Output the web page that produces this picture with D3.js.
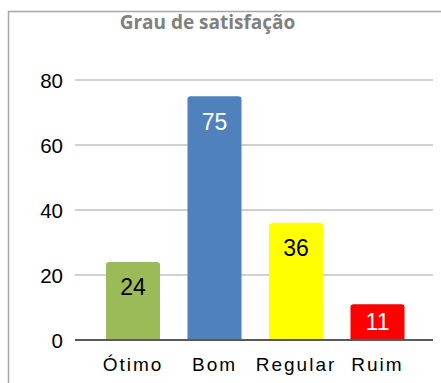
<!DOCTYPE html>
<html>
<head>
<meta charset="utf-8">
<script src="https://cdn.jsdelivr.net/npm/d3@7"></script>
<style>
  html, body { margin: 0; padding: 0; background: #fff; }
  svg { display: block; }
</style>
</head>
<body>
<svg id="chart" width="441" height="383"></svg>
<script>
// Survey results: satisfaction level
const categories = ["Ótimo", "Bom", "Regular", "Ruim"];
const values = [24, 75, 36, 11];
const colors = ["#9bbb59", "#4f81bd", "#ffff00", "#ff0000"];
const labelColors = ["#000000", "#ffffff", "#000000", "#ffffff"];
const yTicks = [0, 20, 40, 60, 80];
const title = "Grau de satisfação";

const svg = d3.select("#chart");
const W = 441, H = 383;
const font = "'Liberation Sans', Arial, sans-serif";

// Outer frame (top and left edges visible)
svg.append("path")
  .attr("d", `M8.5,${H} V11.5 H${W}`)
  .attr("fill", "none")
  .attr("stroke", "#a6a6a6")
  .attr("stroke-width", 1.5);

// Title
svg.append("text")
  .attr("x", 207.5)
  .attr("y", 28.5)
  .attr("text-anchor", "middle")
  .attr("font-family", "'Open Sans', 'DejaVu Sans', sans-serif")
  .attr("font-weight", "bold")
  .attr("font-size", 19)
  .attr("fill", "#808080")
  .text(title);

const plotLeft = 75, plotRight = 433;
const y = d3.scaleLinear().domain([0, 80]).range([340, 80]);
const x = d3.scaleBand()
  .domain(categories)
  .range([92.25, 418.25])
  .paddingInner(0.337)
  .paddingOuter(0.1685);

// Gridlines
svg.append("g")
  .selectAll("line")
  .data(yTicks.filter(d => d > 0))
  .join("line")
  .attr("x1", plotLeft).attr("x2", plotRight)
  .attr("y1", d => y(d)).attr("y2", d => y(d))
  .attr("stroke", "#d0d0d0")
  .attr("stroke-width", 2);

// Y axis tick labels
const yAxis = d3.axisLeft(y).tickValues(yTicks).tickSize(0).tickPadding(0);
const gy = svg.append("g").attr("transform", "translate(63,0)").call(yAxis);
gy.select(".domain").remove();
gy.selectAll("text")
  .attr("font-family", font)
  .attr("font-size", 20.5)
  .attr("fill", "#000")
  .attr("dy", "0.36em");

// Bars with slightly rounded tops
const r = 3;
function barPath(d, i) {
  const x0 = x(categories[i]), w = x.bandwidth();
  const top = y(d), bot = y(0);
  return `M${x0},${bot} V${top + r} Q${x0},${top} ${x0 + r},${top} H${x0 + w - r} Q${x0 + w},${top} ${x0 + w},${top + r} V${bot} Z`;
}
svg.append("g")
  .selectAll("path")
  .data(values)
  .join("path")
  .attr("d", barPath)
  .attr("fill", (d, i) => colors[i]);

// Value labels inside bars
svg.append("g")
  .selectAll("text")
  .data(values)
  .join("text")
  .attr("x", (d, i) => x(categories[i]) + x.bandwidth() / 2)
  .attr("y", d => Math.min(y(d) + 25, (y(d) + y(0)) / 2))
  .attr("dy", "0.36em")
  .attr("text-anchor", "middle")
  .attr("font-family", font)
  .attr("font-size", 23)
  .attr("fill", (d, i) => labelColors[i])
  .text(d => d);

// Baseline axis
svg.append("line")
  .attr("x1", plotLeft).attr("x2", plotRight)
  .attr("y1", y(0)).attr("y2", y(0))
  .attr("stroke", "#595959")
  .attr("stroke-width", 2);

// Category labels
const xAxis = d3.axisBottom(x).tickSize(0).tickPadding(0);
const gx = svg.append("g").attr("transform", "translate(0,371)").call(xAxis);
gx.select(".domain").remove();
gx.selectAll("text")
  .attr("font-family", font)
  .attr("font-size", 19)
  .attr("letter-spacing", "2px")
  .attr("fill", "#000")
  .attr("dy", 0)
  .attr("y", 0);
</script>
</body>
</html>
